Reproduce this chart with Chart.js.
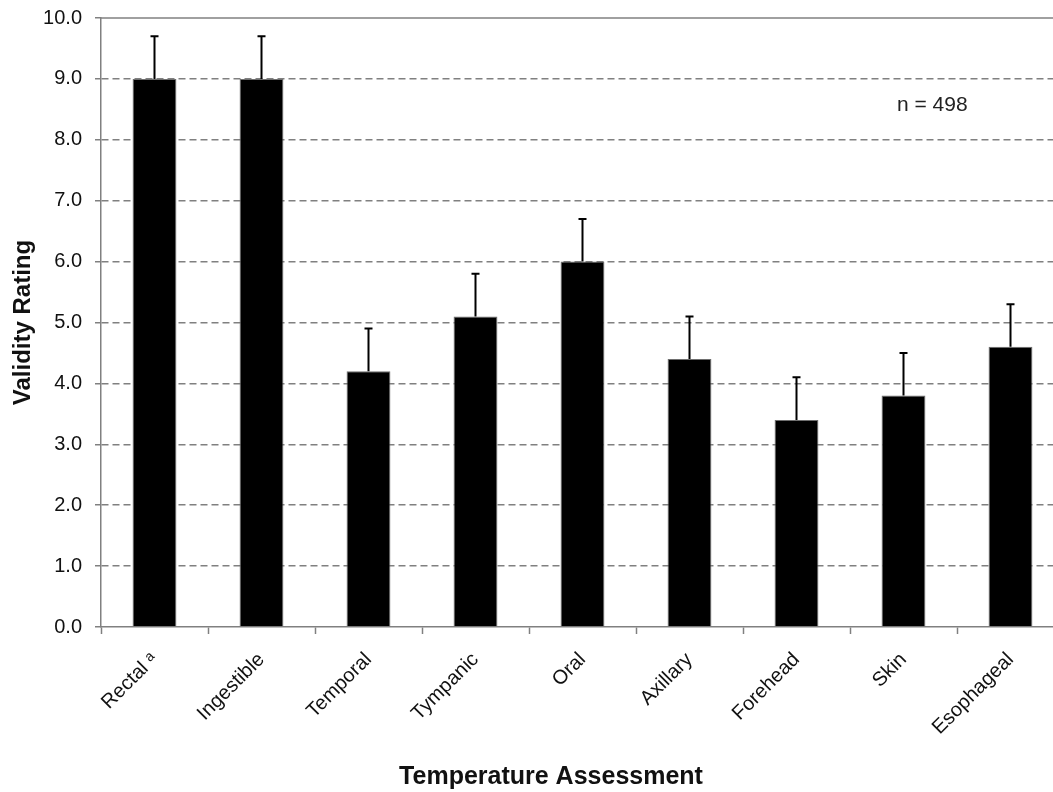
<!DOCTYPE html>
<html>
<head>
<meta charset="utf-8">
<script src="https://cdn.jsdelivr.net/npm/chart.js@4"></script>
<style>
    html, body { margin: 0; padding: 0; overflow: hidden; background: #fff; }
    #wrap { width: 1064px; height: 792px; }
</style>
</head>
<body>
<div id="wrap"><canvas id="chart"></canvas></div>
<script>
const categories = ["Rectal \u1d43", "Ingestible", "Temporal", "Tympanic", "Oral", "Axillary", "Forehead", "Skin", "Esophageal"];
const ratings = [9.0, 9.0, 4.2, 5.1, 6.0, 4.4, 3.4, 3.8, 4.6];
const errors = [0.7, 0.7, 0.7, 0.7, 0.7, 0.7, 0.7, 0.7, 0.7];
const yTicks = [0, 1, 2, 3, 4, 5, 6, 7, 8, 9, 10];
const sampleNote = "n = 498";
const xTitle = "Temperature Assessment";

const axisGray = "#808080";
const fontFamily = "'Liberation Sans', Arial, sans-serif";

// error bars (upper only), top frame line, x title and the n note
const extras = {
    id: "extras",
    afterDatasetsDraw(chart) {
        const ctx = chart.ctx;
        const x = chart.scales.x;
        const y = chart.scales.y;
        const area = chart.chartArea;

        ctx.save();
        ctx.strokeStyle = "#000";
        ctx.lineWidth = 2;
        ratings.forEach((v, i) => {
            let px = x.getPixelForValue(i);
            let top = y.getPixelForValue(v + errors[i]);
            let base = y.getPixelForValue(v);
            ctx.beginPath();
            ctx.moveTo(px, base);
            ctx.lineTo(px, top);
            ctx.moveTo(px - 4, top);
            ctx.lineTo(px + 4, top);
            ctx.stroke();
        });

        ctx.strokeStyle = axisGray;
        ctx.lineWidth = 1.5;
        ctx.beginPath();
        ctx.moveTo(area.left, area.top);
        ctx.lineTo(area.right, area.top);
        ctx.stroke();

        ctx.fillStyle = "#222";
        ctx.font = "21px " + fontFamily;
        ctx.textAlign = "left";
        ctx.textBaseline = "middle";
        ctx.fillText(sampleNote, area.right - 167, y.getPixelForValue(8.56));

        // the original title sits left of the plot centre
        ctx.fillStyle = "#111";
        ctx.font = "bold 25px " + fontFamily;
        ctx.textAlign = "center";
        ctx.fillText(xTitle, area.left + 450, x.bottom - 15);
        ctx.restore();
    }
};

new Chart(document.getElementById("chart"), {
    type: "bar",
    data: {
        labels: categories,
        datasets: [{
            data: ratings,
            backgroundColor: "#000",
            borderColor: "#6e6e6e",
            borderWidth: 1,
            barPercentage: 0.41,
            categoryPercentage: 1.0
        }]
    },
    options: {
        responsive: true,
        maintainAspectRatio: false,
        animation: false,
        layout: { padding: { top: 18, right: 0, left: 0, bottom: 0 } },
        plugins: {
            legend: { display: false },
            tooltip: { enabled: false }
        },
        scales: {
            x: {
                grid: {
                    drawOnChartArea: false,
                    offset: true,
                    tickLength: 7,
                    tickColor: axisGray,
                    tickWidth: 1.5
                },
                border: { color: axisGray, width: 1.5 },
                ticks: {
                    minRotation: 45,
                    maxRotation: 45,
                    padding: 14,
                    color: "#111",
                    font: { family: fontFamily, size: 20 }
                },
                afterFit(scale) { scale.height = 165; }
            },
            y: {
                min: 0,
                max: 10,
                afterBuildTicks(scale) { scale.ticks = yTicks.map(v => ({ value: v })); },
                grid: {
                    color: ctx => (ctx.tick && (ctx.tick.value === 0 || ctx.tick.value === 10)) ? "rgba(0,0,0,0)" : axisGray,
                    lineWidth: 1.5,
                    tickLength: 6,
                    tickColor: axisGray,
                    tickWidth: 1.5,
                    tickBorderDash: []
                },
                border: { color: axisGray, width: 1.5, dash: [7, 4] },
                ticks: {
                    padding: 13,
                    color: "#111",
                    font: { family: fontFamily, size: 20 },
                    callback: v => v.toFixed(1)
                },
                title: {
                    display: true,
                    text: "Validity Rating",
                    color: "#111",
                    padding: { top: 9, bottom: 0 },
                    font: { family: fontFamily, size: 24, weight: "bold" }
                },
                afterFit(scale) {
                    scale.width = 101;
                    scale.paddingTop = 0;
                    scale.paddingBottom = 0;
                }
            }
        }
    },
    plugins: [extras]
});
</script>
</body>
</html>
